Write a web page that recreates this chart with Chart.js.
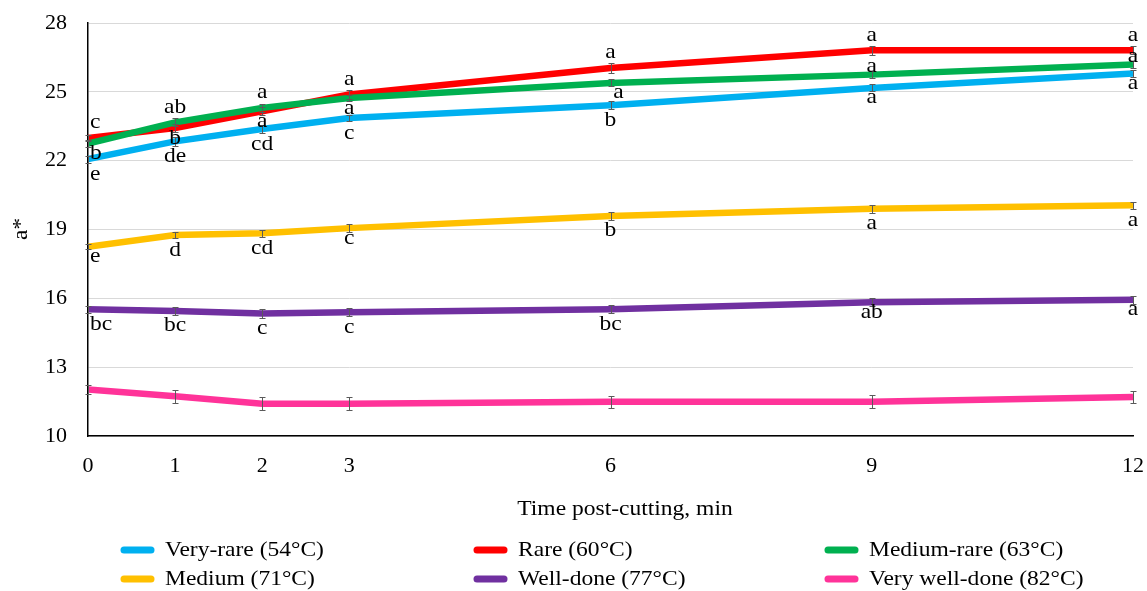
<!DOCTYPE html>
<html>
<head>
<meta charset="utf-8">
<script src="https://cdn.jsdelivr.net/npm/chart.js@4.4.0/dist/chart.umd.min.js"></script>
<style>
  html, body { margin: 0; padding: 0; background: #fff; }
  canvas { display: block; }
</style>
</head>
<body>
<canvas id="chartA" width="1147" height="591"></canvas>
<script>
// time points (min)
const minutes = [0, 1, 2, 3, 6, 9, 12];
const yTicks = [10, 13, 16, 19, 22, 25, 28];

const veryRare = [22.07, 22.84, 23.38, 23.86, 24.42, 25.17, 25.80];
const rare = [22.99, 23.42, 24.15, 24.88, 26.04, 26.81, 26.81];
const mediumRare = [22.74, 23.67, 24.30, 24.73, 25.39, 25.75, 26.19];
const medium = [18.25, 18.76, 18.84, 19.06, 19.59, 19.90, 20.06];
const wellDone = [15.52, 15.45, 15.34, 15.39, 15.52, 15.83, 15.94];
const veryWellDone = [12.03, 11.73, 11.41, 11.41, 11.49, 11.49, 11.70];

// standard errors
const errVeryRare = [0.15, 0.2, 0.18, 0.15, 0.18, 0.15, 0.15];
const errRare = [0.15, 0.18, 0.18, 0.18, 0.2, 0.2, 0.18];
const errMediumRare = [0.15, 0.18, 0.18, 0.15, 0.15, 0.15, 0.15];
const errMedium = [0.12, 0.15, 0.15, 0.17, 0.17, 0.17, 0.15];
const errWellDone = [0.15, 0.18, 0.18, 0.18, 0.17, 0.18, 0.17];
const errVeryWellDone = [0.2, 0.27, 0.28, 0.28, 0.27, 0.28, 0.27];

// significance letters
const lettersVeryRare = ['e', 'de', 'cd', 'c', 'b', 'a', 'a'];
const lettersRare = ['c', 'b', 'a', 'a', 'a', 'a', 'a'];
const lettersMediumRare = ['b', 'ab', 'a', 'a', 'a', 'a', 'a'];
const lettersMedium = ['e', 'd', 'cd', 'c', 'b', 'a', 'a'];
const lettersWellDone = ['bc', 'bc', 'c', 'c', 'bc', 'ab', 'a'];
const lettersVeryWellDone = [];

// where each letter sits: A above, B below, N just below, U just above
const placeVeryRare = ['B', 'B', 'B', 'B', 'B', 'N', 'N'];
const placeRare = ['A', 'N', 'N', 'A', 'A', 'A', 'A'];
const placeMediumRare = ['N', 'A', 'A', 'N', 'N', 'U', 'U'];
const placeMedium = ['N', 'B', 'B', 'N', 'B', 'B', 'B'];
const placeWellDone = ['B', 'B', 'B', 'B', 'B', 'N', 'N'];

const series = [
  { label: 'Very-rare (54°C)', values: veryRare, err: errVeryRare, letters: lettersVeryRare, place: placeVeryRare, color: '#00B0F0' },
  { label: 'Rare (60°C)', values: rare, err: errRare, letters: lettersRare, place: placeRare, color: '#FF0000' },
  { label: 'Medium-rare (63°C)', values: mediumRare, err: errMediumRare, letters: lettersMediumRare, place: placeMediumRare, color: '#00B050' },
  { label: 'Medium (71°C)', values: medium, err: errMedium, letters: lettersMedium, place: placeMedium, color: '#FFC000' },
  { label: 'Well-done (77°C)', values: wellDone, err: errWellDone, letters: lettersWellDone, place: placeWellDone, color: '#7030A0' },
  { label: 'Very well-done (82°C)', values: veryWellDone, err: errVeryWellDone, letters: lettersVeryWellDone, place: [], color: '#FF3399' },
];

const SERIF = '"Liberation Serif", "Times New Roman", serif';
const PLACE_DY = { A: -15, B: 15, N: 10, U: -8 };

function stretchText(ctx, text, x, y, align, rotate) {
  ctx.save();
  ctx.translate(x, y);
  if (rotate) ctx.rotate(rotate);
  ctx.scale(1.12, 1);
  ctx.textAlign = align;
  ctx.textBaseline = 'middle';
  ctx.fillText(text, 0, 0);
  ctx.restore();
}

const annotations = {
  id: 'annotations',
  afterDatasetsDraw(chart) {
    const { ctx, scales: { x, y } } = chart;
    ctx.save();
    // error bars
    ctx.strokeStyle = '#5a5a5a';
    ctx.lineWidth = 1;
    series.forEach((s) => {
      s.err.forEach((e, i) => {
        const px = Math.round(x.getPixelForValue(minutes[i])) + 0.5;
        const top = Math.round(y.getPixelForValue(s.values[i] + e)) + 0.5;
        const bot = Math.round(y.getPixelForValue(s.values[i] - e)) + 0.5;
        ctx.beginPath();
        ctx.moveTo(px, top);
        ctx.lineTo(px, bot);
        ctx.moveTo(px - 3, top);
        ctx.lineTo(px + 3, top);
        ctx.moveTo(px - 3, bot);
        ctx.lineTo(px + 3, bot);
        ctx.stroke();
      });
    });
    // letters
    ctx.fillStyle = '#000';
    ctx.font = `21px ${SERIF}`;
    series.forEach((s, si) => {
      s.letters.forEach((txt, i) => {
        let px = x.getPixelForValue(minutes[i]);
        const py = y.getPixelForValue(s.values[i]) + PLACE_DY[s.place[i]];
        let align = 'center';
        if (i === 0) { px += 2; align = 'left'; }
        if (si === 2 && i === 4) px += 8;
        stretchText(ctx, txt, px, py, align);
      });
    });
    ctx.restore();
  },
  afterDraw(chart) {
    const { ctx } = chart;
    ctx.save();
    ctx.fillStyle = '#000';
    ctx.font = `21px ${SERIF}`;
    stretchText(ctx, 'Time post-cutting, min', 625, 509, 'center');
    stretchText(ctx, 'a*', 21, 229, 'center', -Math.PI / 2);
    // legend, three columns
    const cols = [121, 474, 825];
    const rows = [550, 579];
    series.forEach((s, i) => {
      const cx = cols[i % 3];
      const cy = rows[Math.floor(i / 3)];
      ctx.strokeStyle = s.color;
      ctx.lineWidth = 7;
      ctx.lineCap = 'round';
      ctx.beginPath();
      ctx.moveTo(cx + 3, cy);
      ctx.lineTo(cx + 30, cy);
      ctx.stroke();
      stretchText(ctx, s.label, cx + 44, cy, 'left');
    });
    ctx.restore();
  },
};

new Chart(document.getElementById('chartA').getContext('2d'), {
  type: 'line',
  data: {
    datasets: series.map((s, i) => ({
      label: s.label,
      data: minutes.map((m, j) => ({ x: m, y: s.values[j] })),
      borderColor: s.color,
      backgroundColor: s.color,
      borderWidth: 6.5,
      pointRadius: 0,
      tension: 0,
      order: series.length - i,
    })),
  },
  options: {
    responsive: false,
    animation: false,
    layout: { padding: { top: 23, right: 14, left: 0, bottom: 0 } },
    scales: {
      x: {
        type: 'linear',
        min: 0,
        max: 12,
        afterBuildTicks: (scale) => { scale.ticks = minutes.map((v) => ({ value: v })); },
        afterFit: (scale) => {
          scale.height = 155;
          scale.paddingLeft = 0;
          scale.paddingRight = 0;
        },
        grid: { display: false, drawTicks: false },
        border: { display: true, color: '#000', width: 1.5 },
        ticks: { color: '#000', padding: 17, font: { family: SERIF, size: 22 } },
      },
      y: {
        min: 10,
        max: 28,
        afterBuildTicks: (scale) => { scale.ticks = yTicks.map((v) => ({ value: v })); },
        afterFit: (scale) => {
          scale.width = 88;
          scale.paddingTop = 0;
          scale.paddingBottom = 0;
        },
        grid: { color: '#d9d9d9', lineWidth: 1, drawTicks: false },
        border: { display: true, color: '#000', width: 1.5 },
        ticks: { color: '#000', padding: 21, font: { family: SERIF, size: 22 } },
      },
    },
    plugins: {
      legend: { display: false },
      tooltip: { enabled: false },
    },
  },
  plugins: [annotations],
});
</script>
</body>
</html>
